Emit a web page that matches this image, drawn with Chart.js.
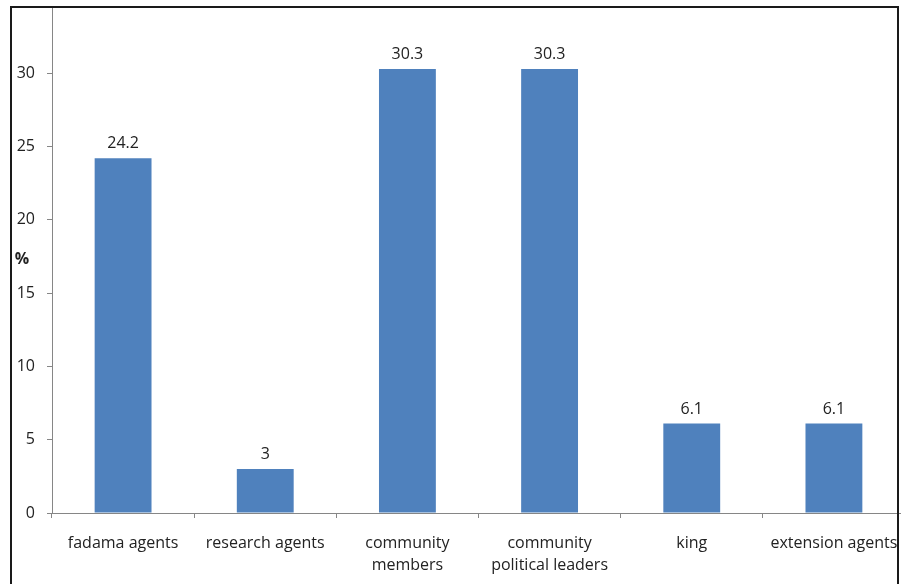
<!DOCTYPE html>
<html>
<head>
<meta charset="utf-8">
<script src="https://cdn.jsdelivr.net/npm/chart.js@4/dist/chart.umd.min.js"></script>
<style>
  html, body { margin: 0; padding: 0; background: #fff; overflow: hidden; width: 901px; height: 584px; }
  #wrap { position: absolute; left: 0; top: 0; width: 905px; height: 584px; }
  #topband { position: absolute; left: 0; top: 0; width: 901px; height: 6px; background: #fff; }
  #frame { position: absolute; left: 10px; top: 6px; width: 889px; height: 600px;
           border: 2px solid #1a1a1a; box-sizing: border-box; pointer-events: none; }
</style>
</head>
<body>
<div id="wrap"><canvas id="c" width="905" height="584"></canvas></div>
<div id="topband"></div>
<div id="frame"></div>
<script>
const categories = [
  'fadama agents',
  'research agents',
  ['community', 'members'],
  ['community', 'political leaders'],
  'king',
  'extension agents'
];
const percentages = [24.2, 3, 30.3, 30.3, 6.1, 6.1];
const yTicks = [0, 5, 10, 15, 20, 25, 30];

const FONT = "'Open Sans', 'Liberation Sans', sans-serif";
const AXIS = '#868686';

// value labels above each bar
const valueLabels = {
  id: 'valueLabels',
  afterDatasetsDraw(chart) {
    const ctx = chart.ctx;
    const meta = chart.getDatasetMeta(0);
    ctx.save();
    ctx.font = '16px ' + FONT;
    ctx.fillStyle = '#222';
    ctx.textAlign = 'center';
    ctx.textBaseline = 'alphabetic';
    meta.data.forEach((bar, i) => {
      ctx.fillText(String(percentages[i]), bar.x, bar.y - 10);
    });
    ctx.restore();
  }
};

// horizontal "%" axis caption
const yCaption = {
  id: 'yCaption',
  afterDraw(chart) {
    const ctx = chart.ctx;
    const y = chart.scales.y.getPixelForValue(17.3);
    ctx.save();
    ctx.font = 'bold 16px ' + FONT;
    ctx.fillStyle = '#222';
    ctx.textAlign = 'center';
    ctx.textBaseline = 'middle';
    ctx.fillText('%', 22, y);
    ctx.restore();
  }
};

new Chart(document.getElementById('c'), {
  type: 'bar',
  data: {
    labels: categories,
    datasets: [{
      data: percentages,
      backgroundColor: '#4F81BD',
      borderWidth: 0,
      categoryPercentage: 0.4,
      barPercentage: 1.0
    }]
  },
  options: {
    responsive: false,
    animation: false,
    devicePixelRatio: 1,
    layout: { padding: { left: 0, right: 0, top: 0, bottom: 0 } },
    plugins: { legend: { display: false }, tooltip: { enabled: false } },
    scales: {
      x: {
        offset: true,
        grid: { offset: true, drawOnChartArea: false, color: AXIS, tickLength: 5 },
        border: { display: true, color: AXIS, width: 1 },
        ticks: {
          maxRotation: 0, autoSkip: false, padding: 14,
          color: '#222', font: { family: FONT, size: 16, lineHeight: 1.4 }
        },
        afterFit(scale) { scale.height = 71; scale.paddingLeft = 0; scale.paddingRight = 0; }
      },
      y: {
        min: 0, max: 35,
        afterBuildTicks(scale) {
          scale.ticks = yTicks.concat([35]).map(v => ({ value: v }));
        },
        grid: { drawOnChartArea: false, color: AXIS, tickLength: 5 },
        border: { display: true, color: AXIS, width: 1 },
        ticks: {
          padding: 12, color: '#222', font: { family: FONT, size: 16 },
          callback: (v) => yTicks.includes(v) ? String(v) : ''
        },
        afterFit(scale) { scale.width = 52; scale.paddingTop = 0; scale.paddingBottom = 0; }
      }
    }
  },
  plugins: [valueLabels, yCaption]
});
</script>
</body>
</html>
